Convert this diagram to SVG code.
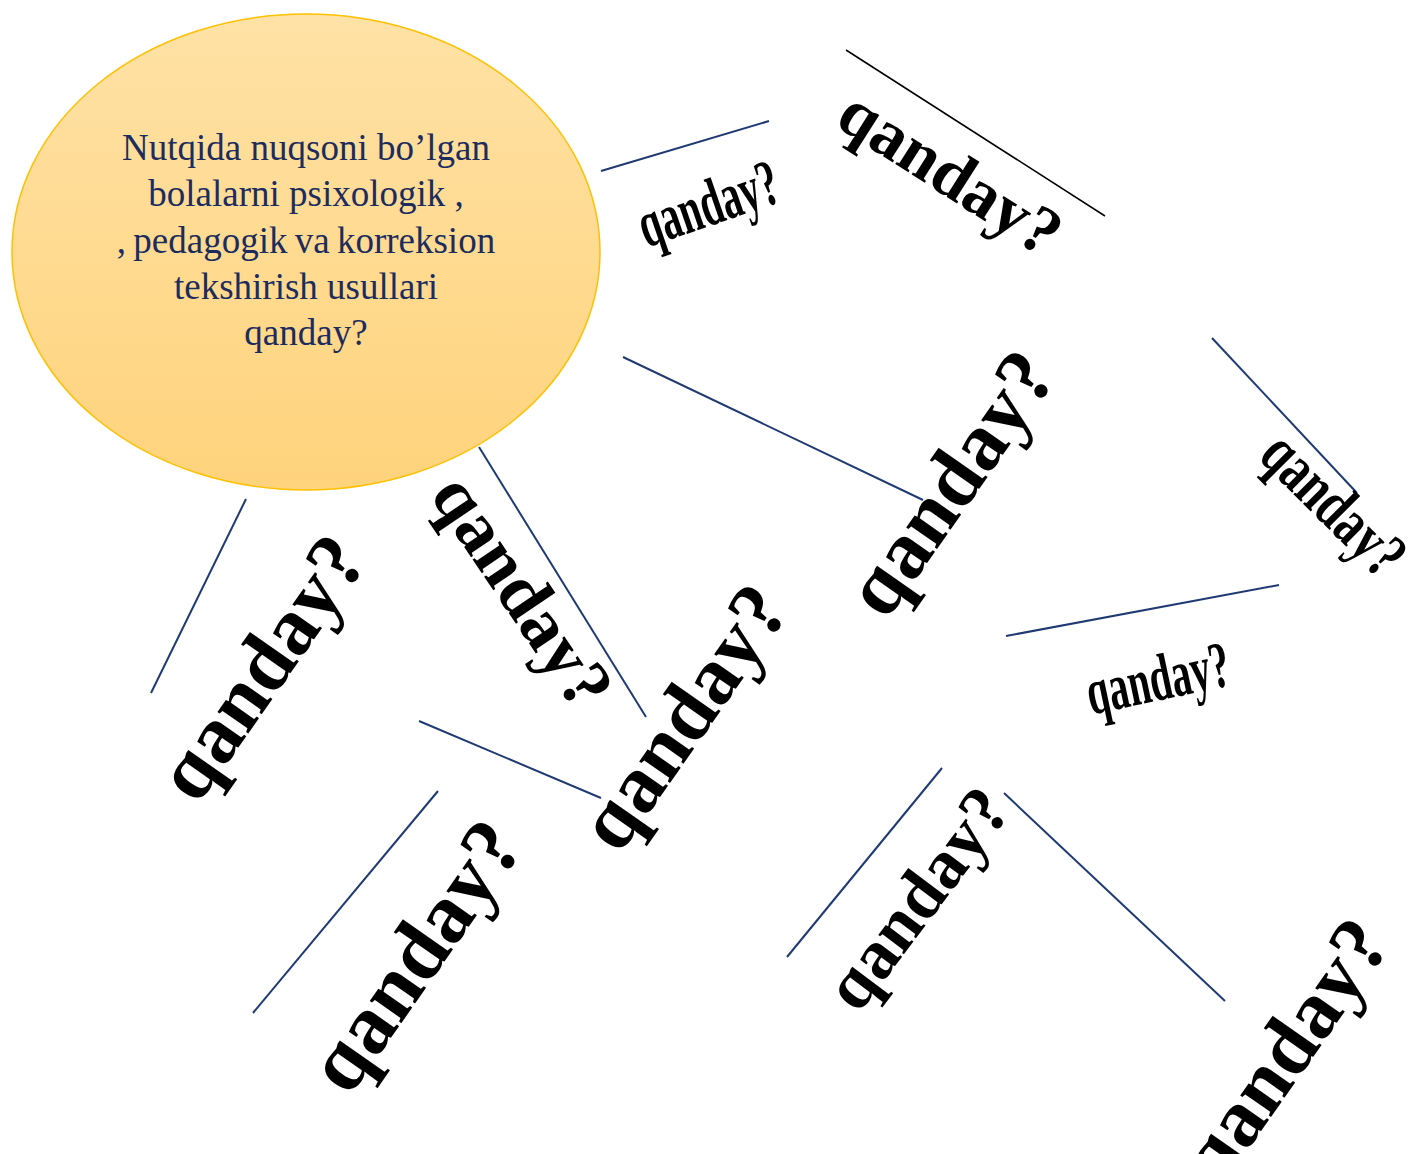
<svg xmlns="http://www.w3.org/2000/svg" width="1411" height="1154" viewBox="0 0 1411 1154">
<defs>
<linearGradient id="bg" x1="0" y1="0" x2="0" y2="1">
<stop offset="0" stop-color="#FFE2A6"/>
<stop offset="1" stop-color="#FFD37C"/>
</linearGradient>
</defs>
<style>
.ln{stroke:#1F3A73;stroke-width:2;fill:none}
.lk{stroke:#000;stroke-width:1.5;fill:none}
.q{font-family:"Liberation Serif","Times New Roman",serif;font-weight:bold;fill:#000;text-anchor:middle}
.c{font-family:"Liberation Serif","Times New Roman",serif;font-size:37px;fill:#1C2C5E;text-anchor:middle}
</style>
<rect width="1411" height="1154" fill="#fff"/>
<g id="center">
<ellipse cx="306" cy="252" rx="294" ry="238" fill="url(#bg)" stroke="#FFC000" stroke-width="1.5"/>
<text class="c" x="306" y="160">Nutqida nuqsoni bo’lgan</text>
<text class="c" x="306" y="206">bolalarni psixologik ,</text>
<text class="c" x="306" y="253" word-spacing="-2">, pedagogik va korreksion</text>
<text class="c" x="306" y="299">tekshirish usullari</text>
<text class="c" x="306" y="345">qanday?</text>
</g>
<g id="connectors">
<line class="ln" x1="601" y1="171" x2="769" y2="121"/>
<line class="lk" x1="846" y1="50" x2="1105" y2="216"/>
<line class="ln" x1="1212" y1="338" x2="1357" y2="493"/>
<line class="ln" x1="1006" y1="636" x2="1279" y2="585"/>
<line class="ln" x1="623" y1="357" x2="923" y2="500"/>
<line class="ln" x1="479" y1="447" x2="646" y2="717"/>
<line class="ln" x1="246" y1="499" x2="151" y2="693"/>
<line class="ln" x1="419" y1="721" x2="601" y2="798"/>
<line class="ln" x1="438" y1="791" x2="253" y2="1013"/>
<line class="ln" x1="942" y1="768" x2="787" y2="957"/>
<line class="ln" x1="1004" y1="793" x2="1225" y2="1001"/>
</g>
<g id="t1"><text class="q" font-size="66" transform="translate(710,209) rotate(-19) scale(0.6,1)" y="16">qanday?</text></g>
<g id="t2"><text class="q" font-size="68" transform="translate(947,178) rotate(32.5)" y="16">qanday?</text></g>
<g id="t3"><text class="q" font-size="82" transform="translate(956,487) rotate(-55)" y="20">qanday?</text></g>
<g id="t4"><text class="q" font-size="66" transform="translate(1330,508) rotate(45) scale(0.72,1)" y="16">qanday?</text></g>
<g id="t5"><text class="q" font-size="66" transform="translate(1159,684) rotate(-12) scale(0.6,1)" y="16">qanday?</text></g>
<g id="t6"><text class="q" font-size="82" transform="translate(268,672) rotate(-55)" y="19">qanday?</text></g>
<g id="t7"><text class="q" font-size="72" transform="translate(517,595) rotate(56)" y="17">qanday?</text></g>
<g id="t8"><text class="q" font-size="82" transform="translate(689,721) rotate(-55)" y="20">qanday?</text></g>
<g id="t9"><text class="q" font-size="84" transform="translate(421,960) rotate(-55)" y="20">qanday?</text></g>
<g id="t10"><text class="q" font-size="70" transform="translate(922,902) rotate(-53)" y="17">qanday?</text></g>
<g id="t11"><text class="q" font-size="82" transform="translate(1290,1055) rotate(-55)" y="20">qanday?</text></g>
</svg>
